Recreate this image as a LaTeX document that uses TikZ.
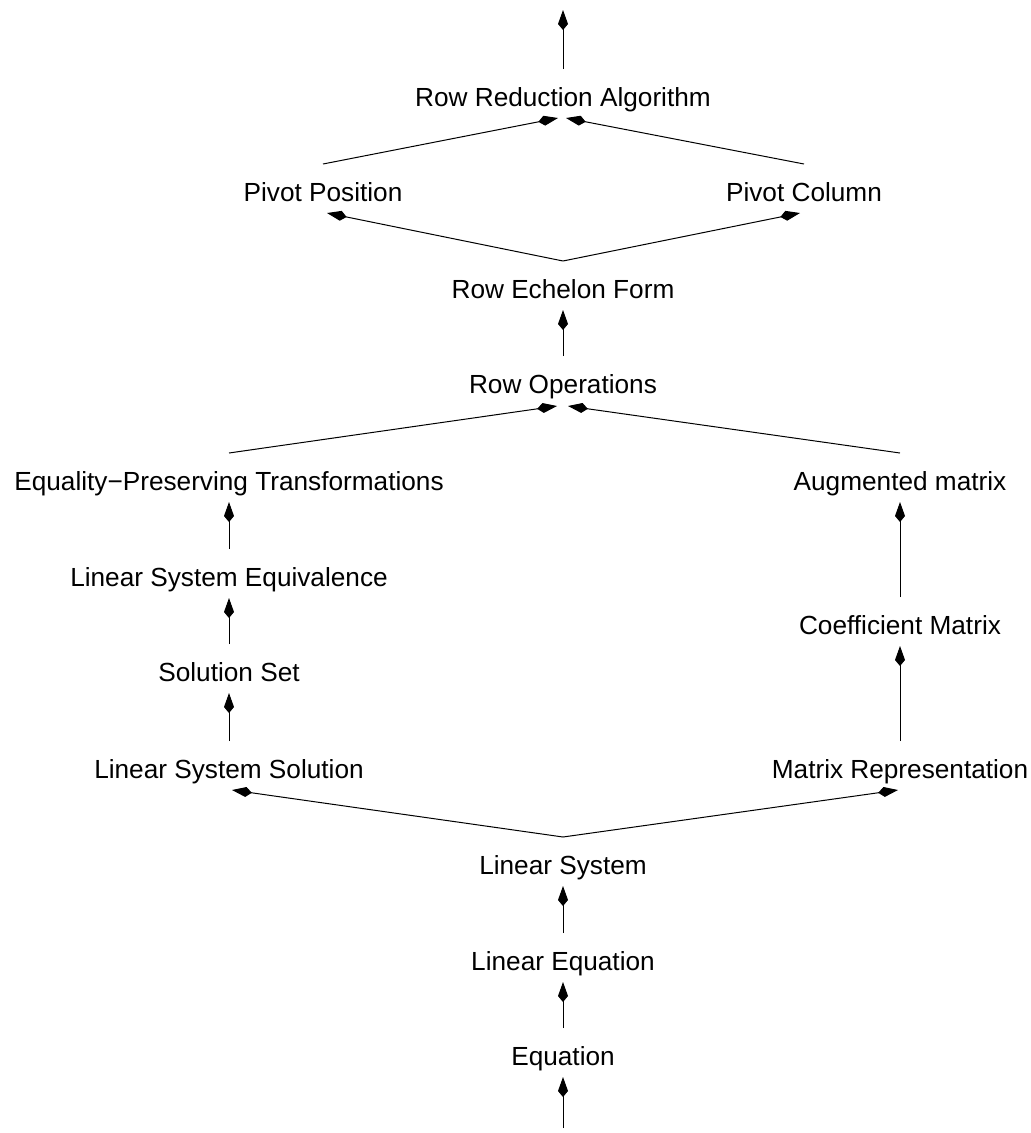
\documentclass[tikz,border=0pt]{standalone}
\usepackage{fontspec}
\setmainfont{Liberation Sans}
\usetikzlibrary{arrows.meta,calc}
\tikzset{
  lbl/.style={anchor=base, inner sep=0pt, font=\fontsize{26.2}{30}\selectfont},
  conn/.style={-{Kite[length=20pt,width=10pt,inset=6pt]}, line width=1pt},
}
\begin{document}
\begin{tikzpicture}[x=1pt,y=-1pt]
\useasboundingbox (0,0) rectangle (1031,1133);
\node[lbl] (rra) at (563,106) {Row Reduction Algorithm};
\node[lbl] (pp) at (323,201) {Pivot Position};
\node[lbl] (pc) at (804,201) {Pivot Column};
\node[lbl] (ref) at (563,298) {Row Echelon Form};
\node[lbl] (ro) at (563,393) {Row Operations};
\node[lbl] (ept) at (229,490) {Equality−Preserving Transformations};
\node[lbl] (am) at (900,490) {Augmented matrix};
\node[lbl] (lse) at (229,586) {Linear System Equivalence};
\node[lbl] (cm) at (900,634) {Coefficient Matrix};
\node[lbl] (ss) at (229,681) {Solution Set};
\node[lbl] (lss) at (229,778) {Linear System Solution};
\node[lbl] (mr) at (900,778) {Matrix Representation};
\node[lbl] (ls) at (563,874) {Linear System};
\node[lbl] (le) at (563,970) {Linear Equation};
\node[lbl] (eq) at (563,1065) {Equation};
\coordinate (top) at (563,10);
\coordinate (bot) at (563,1128);
\draw[conn] (bot) -- ($(eq.base)+(0,12)$);
\draw[conn] ($(eq.base)+(0,-37)$) -- ($(le.base)+(0,12)$);
\draw[conn] ($(le.base)+(0,-37)$) -- ($(ls.base)+(0,12)$);
\draw[conn] ($(ls.base)+(0,-37)$) -- ($(lss.base)+(3,12)$);
\draw[conn] ($(ls.base)+(0,-37)$) -- ($(mr.base)+(-2,12)$);
\draw[conn] ($(lss.base)+(0,-37)$) -- ($(ss.base)+(0,12)$);
\draw[conn] ($(ss.base)+(0,-37)$) -- ($(lse.base)+(0,12)$);
\draw[conn] ($(lse.base)+(0,-37)$) -- ($(ept.base)+(0,12)$);
\draw[conn] ($(mr.base)+(0,-37)$) -- ($(cm.base)+(0,12)$);
\draw[conn] ($(cm.base)+(0,-37)$) -- ($(am.base)+(0,12)$);
\draw[conn] ($(ept.base)+(0,-37)$) -- ($(ro.base)+(-6,13)$);
\draw[conn] ($(am.base)+(0,-37)$) -- ($(ro.base)+(5,13)$);
\draw[conn] ($(ro.base)+(0,-37)$) -- ($(ref.base)+(0,12)$);
\draw[conn] ($(ref.base)+(0,-37)$) -- ($(pp.base)+(4,12)$);
\draw[conn] ($(ref.base)+(0,-37)$) -- ($(pc.base)+(-4,12)$);
\draw[conn] ($(pp.base)+(0,-37)$) -- ($(rra.base)+(-5,12)$);
\draw[conn] ($(pc.base)+(0,-37)$) -- ($(rra.base)+(3,12)$);
\draw[conn] ($(rra.base)+(0,-37)$) -- (top);
\end{tikzpicture}
\end{document}
